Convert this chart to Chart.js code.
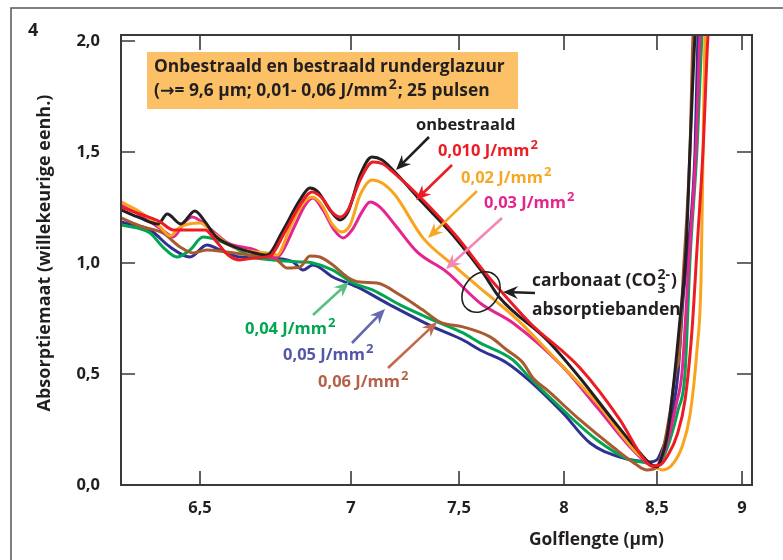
<!DOCTYPE html>
<html>
<head>
<meta charset="utf-8">
<script src="https://cdn.jsdelivr.net/npm/chart.js@4.4.1/dist/chart.umd.min.js"></script>
<style>
  html, body { margin: 0; padding: 0; background: #fff; }
</style>
</head>
<body>
<canvas id="chart" width="783" height="560"></canvas>
<script>
// ---- DATA (wavelength in µm, absorbance in arbitrary units) ----
const xTicks = [6.5, 7, 7.5, 8, 8.5, 9];
const yTicks = [0, 0.5, 1, 1.5, 2];

const blackX = [6.238, 6.301, 6.361, 6.391, 6.437, 6.483, 6.517, 6.550, 6.606, 6.666, 6.722, 6.772, 6.831, 6.864, 6.891, 6.930, 6.964, 6.990, 7.042, 7.097, 7.144, 7.194, 7.333, 7.491, 7.614, 7.695, 7.919, 8.086, 8.263, 8.409, 8.473, 8.500, 8.518, 8.559, 8.594, 8.635, 8.671, 8.694, 8.724, 8.735];
const blackY = [1.239, 1.203, 1.176, 1.221, 1.176, 1.234, 1.185, 1.122, 1.077, 1.050, 1.036, 1.140, 1.284, 1.338, 1.320, 1.239, 1.194, 1.230, 1.396, 1.477, 1.464, 1.419, 1.270, 1.104, 0.955, 0.842, 0.653, 0.482, 0.293, 0.144, 0.090, 0.081, 0.104, 0.216, 0.428, 0.743, 1.059, 1.509, 2.027, 2.117];

const redX = [6.238, 6.301, 6.368, 6.411, 6.457, 6.517, 6.550, 6.593, 6.632, 6.682, 6.732, 6.781, 6.831, 6.871, 6.904, 6.937, 6.964, 6.990, 7.042, 7.102, 7.148, 7.194, 7.333, 7.491, 7.614, 7.695, 7.838, 8.086, 8.301, 8.425, 8.473, 8.518, 8.565, 8.618, 8.665, 8.706, 8.735, 8.771, 8.800, 8.812];
const redY = [1.252, 1.221, 1.185, 1.149, 1.149, 1.149, 1.104, 1.036, 1.014, 1.023, 1.032, 1.140, 1.261, 1.320, 1.293, 1.230, 1.207, 1.239, 1.374, 1.455, 1.446, 1.410, 1.284, 1.117, 0.968, 0.878, 0.730, 0.527, 0.293, 0.122, 0.086, 0.090, 0.135, 0.225, 0.383, 0.698, 1.059, 1.509, 2.027, 2.117];

const orangeX = [6.238, 6.301, 6.368, 6.401, 6.434, 6.500, 6.543, 6.609, 6.682, 6.722, 6.755, 6.798, 6.838, 6.871, 6.904, 6.937, 6.970, 6.997, 7.042, 7.097, 7.144, 7.204, 7.333, 7.472, 7.600, 7.681, 7.790, 7.919, 8.177, 8.392, 8.489, 8.535, 8.588, 8.647, 8.694, 8.735, 8.759, 8.771, 8.782, 8.794];
const orangeY = [1.275, 1.230, 1.162, 1.122, 1.162, 1.180, 1.135, 1.072, 1.050, 1.045, 1.036, 1.158, 1.261, 1.297, 1.261, 1.176, 1.140, 1.171, 1.306, 1.374, 1.360, 1.306, 1.113, 0.991, 0.887, 0.824, 0.734, 0.608, 0.369, 0.144, 0.081, 0.068, 0.090, 0.171, 0.315, 0.608, 0.923, 1.509, 2.027, 2.117];

const magentaX = [6.238, 6.301, 6.384, 6.411, 6.450, 6.474, 6.526, 6.593, 6.682, 6.738, 6.765, 6.815, 6.848, 6.874, 6.907, 6.944, 6.974, 7.005, 7.051, 7.088, 7.134, 7.204, 7.306, 7.444, 7.600, 7.757, 7.995, 8.177, 8.355, 8.446, 8.489, 8.529, 8.565, 8.612, 8.647, 8.688, 8.729, 8.753, 8.765];
const magentaY = [1.261, 1.216, 1.140, 1.117, 1.185, 1.207, 1.162, 1.090, 1.059, 1.023, 1.036, 1.171, 1.261, 1.293, 1.239, 1.149, 1.113, 1.149, 1.230, 1.275, 1.252, 1.171, 1.050, 0.959, 0.820, 0.730, 0.532, 0.351, 0.171, 0.099, 0.081, 0.122, 0.203, 0.360, 0.505, 1.014, 1.509, 2.027, 2.117];

const greenX = [6.238, 6.334, 6.377, 6.424, 6.467, 6.510, 6.556, 6.609, 6.675, 6.742, 6.831, 6.874, 6.940, 7.009, 7.102, 7.227, 7.380, 7.519, 7.600, 7.757, 7.838, 7.995, 8.177, 8.355, 8.446, 8.489, 8.529, 8.576, 8.624, 8.665, 8.694, 8.735, 8.765, 8.776];
const greenY = [1.171, 1.135, 1.072, 1.027, 1.059, 1.117, 1.104, 1.072, 1.027, 1.014, 1.005, 1.000, 0.968, 0.910, 0.878, 0.811, 0.743, 0.685, 0.640, 0.563, 0.482, 0.338, 0.203, 0.113, 0.099, 0.086, 0.113, 0.203, 0.338, 0.505, 1.014, 1.509, 2.027, 2.117];

const blueX = [6.238, 6.334, 6.401, 6.467, 6.523, 6.566, 6.632, 6.722, 6.808, 6.841, 6.874, 6.940, 7.028, 7.181, 7.380, 7.519, 7.600, 7.728, 7.838, 7.995, 8.140, 8.301, 8.462, 8.500, 8.529, 8.559, 8.594, 8.624, 8.653, 8.676, 8.724, 8.741, 8.753];
const blueY = [1.185, 1.149, 1.072, 1.027, 1.081, 1.059, 1.027, 1.023, 1.005, 0.968, 0.991, 0.937, 0.892, 0.811, 0.712, 0.653, 0.608, 0.550, 0.468, 0.324, 0.189, 0.126, 0.104, 0.113, 0.158, 0.216, 0.338, 0.505, 0.833, 1.014, 1.509, 2.027, 2.117];

const brownX = [6.238, 6.311, 6.377, 6.434, 6.477, 6.523, 6.589, 6.675, 6.722, 6.755, 6.788, 6.831, 6.864, 6.897, 6.940, 6.987, 7.042, 7.120, 7.227, 7.333, 7.412, 7.519, 7.648, 7.728, 7.805, 7.852, 7.919, 8.086, 8.263, 8.392, 8.446, 8.500, 8.535, 8.576, 8.612, 8.629, 8.653, 8.694, 8.712, 8.724];
const brownY = [1.203, 1.162, 1.135, 1.072, 1.045, 1.059, 1.050, 1.036, 1.036, 1.014, 0.977, 0.982, 1.032, 1.027, 0.991, 0.937, 0.914, 0.910, 0.856, 0.788, 0.734, 0.712, 0.667, 0.608, 0.550, 0.482, 0.428, 0.293, 0.171, 0.090, 0.068, 0.081, 0.158, 0.324, 0.518, 0.572, 0.923, 1.509, 2.027, 2.117];

// ---- STYLE ----
const FONT = '"Open Sans", "DejaVu Sans", sans-serif';
const INK = '#231F20';
const FRAME = '#3a3a3a';

// wavelength axis is not linear: knots where each value sits along the plot width
const knotVal = [6.238, 6.5, 7, 7.5, 8, 8.5, 9, 9.059];
const knotPos = [0, 0.1252, 0.3645, 0.5357, 0.7021, 0.8494, 0.9842, 1];

function waveDecimal(v) {
  if (v <= knotVal[0]) return knotPos[0] + (v - knotVal[0]) / (knotVal[1] - knotVal[0]) * (knotPos[1] - knotPos[0]);
  for (let i = 1; i < knotVal.length; i++) {
    if (v <= knotVal[i] || i === knotVal.length - 1) {
      const t = (v - knotVal[i - 1]) / (knotVal[i] - knotVal[i - 1]);
      return knotPos[i - 1] + t * (knotPos[i] - knotPos[i - 1]);
    }
  }
}

class WaveScale extends Chart.LinearScale {
  getPixelForValue(value) {
    return this.getPixelForDecimal(waveDecimal(value));
  }
  getValueForPixel(pixel) {
    const d = this.getDecimalForPixel(pixel);
    for (let i = 1; i < knotPos.length; i++) {
      if (d <= knotPos[i] || i === knotPos.length - 1) {
        const t = (d - knotPos[i - 1]) / (knotPos[i] - knotPos[i - 1]);
        return knotVal[i - 1] + t * (knotVal[i] - knotVal[i - 1]);
      }
    }
  }
}
WaveScale.id = 'wave';
WaveScale.defaults = Chart.LinearScale.defaults;
Chart.register(WaveScale);

function pts(xs, ys) {
  return xs.map((x, i) => ({ x: x, y: ys[i] }));
}

// listed top-most first (Chart.js paints dataset 0 last)
const series = [
  { data: pts(redX, redY), color: '#ED1C24' },
  { data: pts(blackX, blackY), color: INK },
  { data: pts(orangeX, orangeY), color: '#F8A51D' },
  { data: pts(magentaX, magentaY), color: '#E6248E' },
  { data: pts(brownX, brownY), color: '#A85A30' },
  { data: pts(greenX, greenY), color: '#00A651' },
  { data: pts(blueX, blueY), color: '#2E3192' }
];

// ---- drawing helpers ----
function richText(ctx, parts, x, y, size, color) {
  ctx.save();
  ctx.fillStyle = color;
  ctx.textBaseline = 'middle';
  ctx.textAlign = 'left';
  let cx = x;
  parts.forEach(p => {
    if (typeof p === 'string') {
      ctx.font = 'bold ' + size + 'px ' + FONT;
      ctx.fillText(p, cx, y);
      cx += ctx.measureText(p).width;
    } else {
      const s = Math.round(size * 0.78);
      ctx.font = 'bold ' + s + 'px ' + FONT;
      let w = 0;
      if (p.sup) { ctx.fillText(p.sup, cx + 1, y - size * 0.34); w = Math.max(w, ctx.measureText(p.sup).width); }
      if (p.sub) { ctx.fillText(p.sub, cx + 1, y + size * 0.45); w = Math.max(w, ctx.measureText(p.sub).width); }
      cx += w + 2;
    }
  });
  ctx.restore();
}

function arrow(ctx, x1, y1, x2, y2, color) {
  const a = Math.atan2(y2 - y1, x2 - x1);
  const len = 15, half = 6.5, notch = 10;
  ctx.save();
  ctx.strokeStyle = color;
  ctx.fillStyle = color;
  ctx.lineWidth = 2.6;
  ctx.beginPath();
  ctx.moveTo(x1, y1);
  ctx.lineTo(x2 - Math.cos(a) * notch, y2 - Math.sin(a) * notch);
  ctx.stroke();
  ctx.beginPath();
  ctx.moveTo(x2, y2);
  ctx.lineTo(x2 - Math.cos(a) * len - Math.sin(a) * half, y2 - Math.sin(a) * len + Math.cos(a) * half);
  ctx.lineTo(x2 - Math.cos(a) * notch, y2 - Math.sin(a) * notch);
  ctx.lineTo(x2 - Math.cos(a) * len + Math.sin(a) * half, y2 - Math.sin(a) * len - Math.cos(a) * half);
  ctx.closePath();
  ctx.fill();
  ctx.restore();
}

const jmm2 = (v) => [v + ' J/mm', { sup: '2' }];

const decorations = {
  id: 'decorations',
  afterDraw(chart) {
    const ctx = chart.ctx;
    const area = chart.chartArea;
    const xs = chart.scales.x, ys = chart.scales.y;

    // outer figure frame
    ctx.save();
    ctx.strokeStyle = '#555';
    ctx.lineWidth = 1.5;
    ctx.beginPath();
    ctx.moveTo(11, 560);
    ctx.lineTo(11, 8);
    ctx.lineTo(783, 8);
    ctx.stroke();

    // plot frame
    ctx.strokeStyle = FRAME;
    ctx.lineWidth = 2;
    ctx.strokeRect(area.left, area.top, area.right - area.left, area.bottom - area.top);

    // inward tick marks
    ctx.lineWidth = 1.6;
    ctx.beginPath();
    xTicks.forEach(v => {
      const px = xs.getPixelForValue(v);
      ctx.moveTo(px, area.bottom); ctx.lineTo(px, area.bottom - 14);
      ctx.moveTo(px, area.top); ctx.lineTo(px, area.top + 15);
    });
    yTicks.forEach(v => {
      const py = ys.getPixelForValue(v);
      if (v > 0) { ctx.moveTo(area.left, py); ctx.lineTo(area.left + 14, py); }
      if (v > 0 && v < 2) { ctx.moveTo(area.right, py); ctx.lineTo(area.right - 15, py); }
    });
    ctx.stroke();
    ctx.restore();

    // panel number
    richText(ctx, ['4'], 28, 31, 18, INK);

    // title box
    ctx.save();
    ctx.fillStyle = '#FCC166';
    ctx.fillRect(147, 52, 371, 57);
    ctx.restore();
    richText(ctx, ['Onbestraald en bestraald runderglazuur'], 154, 67, 17.4, INK);
    richText(ctx, ['(\u2192= 9,6 \u00b5m; 0,01- 0,06 J/mm', { sup: '2' }, '; 25 pulsen'], 154, 91, 17.4, INK);

    // series labels and arrows
    richText(ctx, ['onbestraald'], 416, 125, 16.5, INK);
    arrow(ctx, 429, 137, 396, 170, INK);
    richText(ctx, jmm2('0,010'), 438, 151, 16.5, '#ED1C24');
    arrow(ctx, 452, 165, 416, 200, '#ED1C24');
    richText(ctx, jmm2('0,02'), 461, 178, 16.5, '#F7A823');
    arrow(ctx, 477, 191, 428, 238, '#F7A823');
    richText(ctx, jmm2('0,03'), 484, 203, 16.5, '#E5258D');
    arrow(ctx, 502, 218, 446, 269, '#F189B8');

    richText(ctx, jmm2('0,04'), 245, 329, 16.5, '#00A651');
    arrow(ctx, 313, 315, 349, 282, '#5CBF82');
    richText(ctx, jmm2('0,05'), 283, 355, 16.5, '#5457A6');
    arrow(ctx, 352, 343, 385, 309, '#6567B0');
    richText(ctx, jmm2('0,06'), 318, 382, 16.5, '#B5614A');
    arrow(ctx, 388, 368, 437, 322, '#C2684E');

    // carbonate band marker
    ctx.save();
    ctx.strokeStyle = INK;
    ctx.lineWidth = 1.6;
    ctx.beginPath();
    ctx.ellipse(481, 292, 22, 17, -0.9, 0, Math.PI * 2);
    ctx.stroke();
    ctx.restore();
    arrow(ctx, 535, 293, 503, 292, INK);
    richText(ctx, ['carbonaat (CO', { sup: '2-', sub: '3' }, ')'], 532, 281, 17.4, INK);
    richText(ctx, ['absorptiebanden'], 532, 310, 17.4, INK);

    // x axis title
    richText(ctx, ['Golflengte (\u00b5m)'], 529, 540, 17.4, INK);

    // y axis title
    ctx.save();
    ctx.translate(45, 253);
    ctx.rotate(-Math.PI / 2);
    ctx.fillStyle = INK;
    ctx.font = 'bold 18px ' + FONT;
    ctx.textAlign = 'center';
    ctx.textBaseline = 'middle';
    ctx.fillText('Absorptiemaat (willekeurige eenh.)', 0, 0);
    ctx.restore();
  }
};

new Chart(document.getElementById('chart'), {
  type: 'line',
  data: {
    datasets: series.map(s => ({
      data: s.data,
      borderColor: s.color,
      borderWidth: 3,
      pointRadius: 0,
      fill: false,
      cubicInterpolationMode: 'monotone',
      clip: 0
    }))
  },
  options: {
    responsive: false,
    animation: false,
    events: [],
    layout: { padding: { left: 0, right: 31, top: 35, bottom: 0 } },
    plugins: { legend: { display: false }, tooltip: { enabled: false } },
    scales: {
      x: {
        type: 'wave',
        min: 6.238,
        max: 9.059,
        afterBuildTicks: s => { s.ticks = xTicks.map(v => ({ value: v })); },
        afterFit: s => { s.height = 75; },
        grid: { display: false },
        border: { display: false },
        ticks: {
          padding: 5,
          maxRotation: 0,
          color: INK,
          font: { family: FONT, size: 16.5, weight: 'bold' },
          callback: v => String(v).replace('.', ',')
        }
      },
      y: {
        type: 'linear',
        min: 0,
        max: 2.027,
        afterBuildTicks: s => { s.ticks = yTicks.map(v => ({ value: v })); },
        afterFit: s => { s.width = 121; },
        grid: { display: false },
        border: { display: false },
        ticks: {
          padding: 13,
          color: INK,
          font: { family: FONT, size: 16.5, weight: 'bold' },
          callback: v => v.toFixed(1).replace('.', ',')
        }
      }
    }
  },
  plugins: [decorations]
});
</script>
</body>
</html>
